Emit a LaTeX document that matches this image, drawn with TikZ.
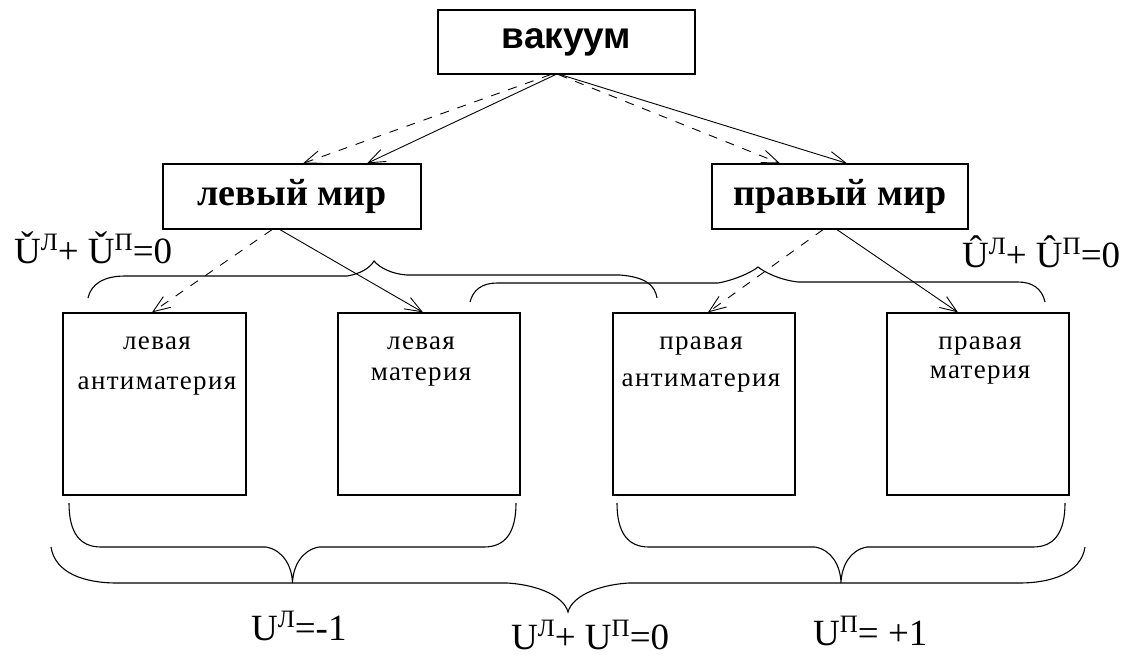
\documentclass[tikz,border=0pt]{standalone}
\usepackage{fontspec}
\setmainfont{Liberation Serif}
\newfontfamily\sansb{Liberation Sans}
\newfontfamily\spaced[LetterSpace=5]{Liberation Serif}
\usetikzlibrary{arrows.meta,calc}
\newcommand{\upx}[1]{\raisebox{13pt}{\fontsize{25}{25}\selectfont #1}}
\begin{document}
\begin{tikzpicture}[x=1pt,y=-1pt,
 frame/.style={draw, line width=1.3pt, inner sep=0pt},
 conn/.style={line width=0.9pt, -{Straight Barb[length=17pt,width=13pt,line width=0.9pt]}},
 dconn/.style={conn, dash pattern=on 9pt off 9pt},
 brace/.style={line width=1.1pt},
 boxtext/.style={font=\spaced\fontsize{27}{34}\selectfont, align=center, inner sep=0pt, anchor=north},
 formula/.style={font=\fontsize{37}{40}\selectfont, inner sep=0pt, anchor=base west}]
\useasboundingbox (0,0) rectangle (1133,657);
\fill[white] (0,0) rectangle (1133,657);

\node[frame, minimum width=257pt, minimum height=64pt, font=\sansb\bfseries\fontsize{37}{40}\selectfont] (vac) at (566.5,42) {вакуум};
\node[frame, minimum width=258pt, minimum height=65pt, font=\bfseries\fontsize{38}{40}\selectfont] (lw) at (292,196.5) {левый мир};
\node[frame, minimum width=256pt, minimum height=65pt, font=\bfseries\fontsize{38}{40}\selectfont] (rw) at (840,196.5) {правый мир};

\node[frame, minimum width=183pt, minimum height=182pt] (b1) at (154.5,404) {};
\node[frame, minimum width=182pt, minimum height=182pt] (b2) at (429,404) {};
\node[frame, minimum width=182pt, minimum height=182pt] (b3) at (704,404) {};
\node[frame, minimum width=182pt, minimum height=182pt] (b4) at (978,404) {};

\node[boxtext] (t1) at ($(b1.north)+(2.5,24)$) {левая\\[6pt]антиматерия};
\node[boxtext] (t2) at ($(b2.north)+(-8,24)$) {левая\\[-3pt]материя};
\node[boxtext] (t3) at ($(b3.north)+(-3,24)$) {правая\\[3pt]антиматерия};
\node[boxtext] (t4) at ($(b4.north)+(2,24)$) {правая\\[-5pt]материя};

\draw[dconn] ([xshift=-16pt]vac.south) -- ([xshift=11pt]lw.north);
\draw[conn] ([xshift=-11pt]vac.south) -- ([xshift=75pt]lw.north);
\draw[dconn] ([xshift=-8pt]vac.south) -- ([xshift=-60pt]rw.north);
\draw[conn] ([xshift=-6pt]vac.south) -- ([xshift=7pt]rw.north);

\draw[dconn] ([xshift=-20pt]lw.south) -- ([xshift=-2.5pt]b1.north);
\draw[conn] ([xshift=-12pt]lw.south) -- ([xshift=-6pt]b2.north);
\draw[dconn] ([xshift=-17pt]rw.south) -- ([xshift=4pt]b3.north);
\draw[conn] ([xshift=-3pt]rw.south) -- ([xshift=-20pt]b4.north);

\draw[brace] (88,298) .. controls (91,284) and (104,276) .. (125,276) -- (347,276) .. controls (360,274) and (370,268) .. (374,261) .. controls (380,268) and (392,274) .. (407,275) -- (620,275) .. controls (645,277) and (655,285) .. (657,298);
\draw[brace] (470,302) .. controls (473,290) and (482,283) .. (497,283) -- (718,283) .. controls (735,280) and (752,272) .. (758,267) .. controls (764,272) and (780,280) .. (798,282) -- (1018,282) .. controls (1033,282) and (1042,289) .. (1045,302);

\draw[brace] (69,503) .. controls (69,533) and (80,547) .. (101,547) -- (266,547) .. controls (283,550) and (292,566) .. (292.5,583) .. controls (293,566) and (302,550) .. (319,547) -- (484,547) .. controls (505,547) and (516,533) .. (516,503);
\draw[brace] (617,503) .. controls (617,533) and (628,547) .. (649,547) -- (815,547) .. controls (832,550) and (840.5,566) .. (841,583) .. controls (841.5,566) and (850,550) .. (867,547) -- (1033,547) .. controls (1054,547) and (1065,533) .. (1065,503);
\draw[brace] (51,547) .. controls (55,573) and (84,583) .. (117,583) -- (507,583) .. controls (540,585) and (564,597) .. (568,612) .. controls (572,597) and (596,585) .. (629,583) -- (1019,583) .. controls (1052,583) and (1081,573) .. (1085,547);

\node[formula] (f1) at (14,263) {Ǔ\upx{Л}+ Ǔ\upx{П}=0};
\node[formula] (f2) at (962,267) {Û\upx{Л}+ Û\upx{П}=0};
\node[formula] (f3) at (251,640) {U\upx{Л}=-1};
\node[formula] (f4) at (511,649) {U\upx{Л}+ U\upx{П}=0};
\node[formula] (f5) at (813,645) {U\upx{П}= +1};
\end{tikzpicture}
\end{document}
